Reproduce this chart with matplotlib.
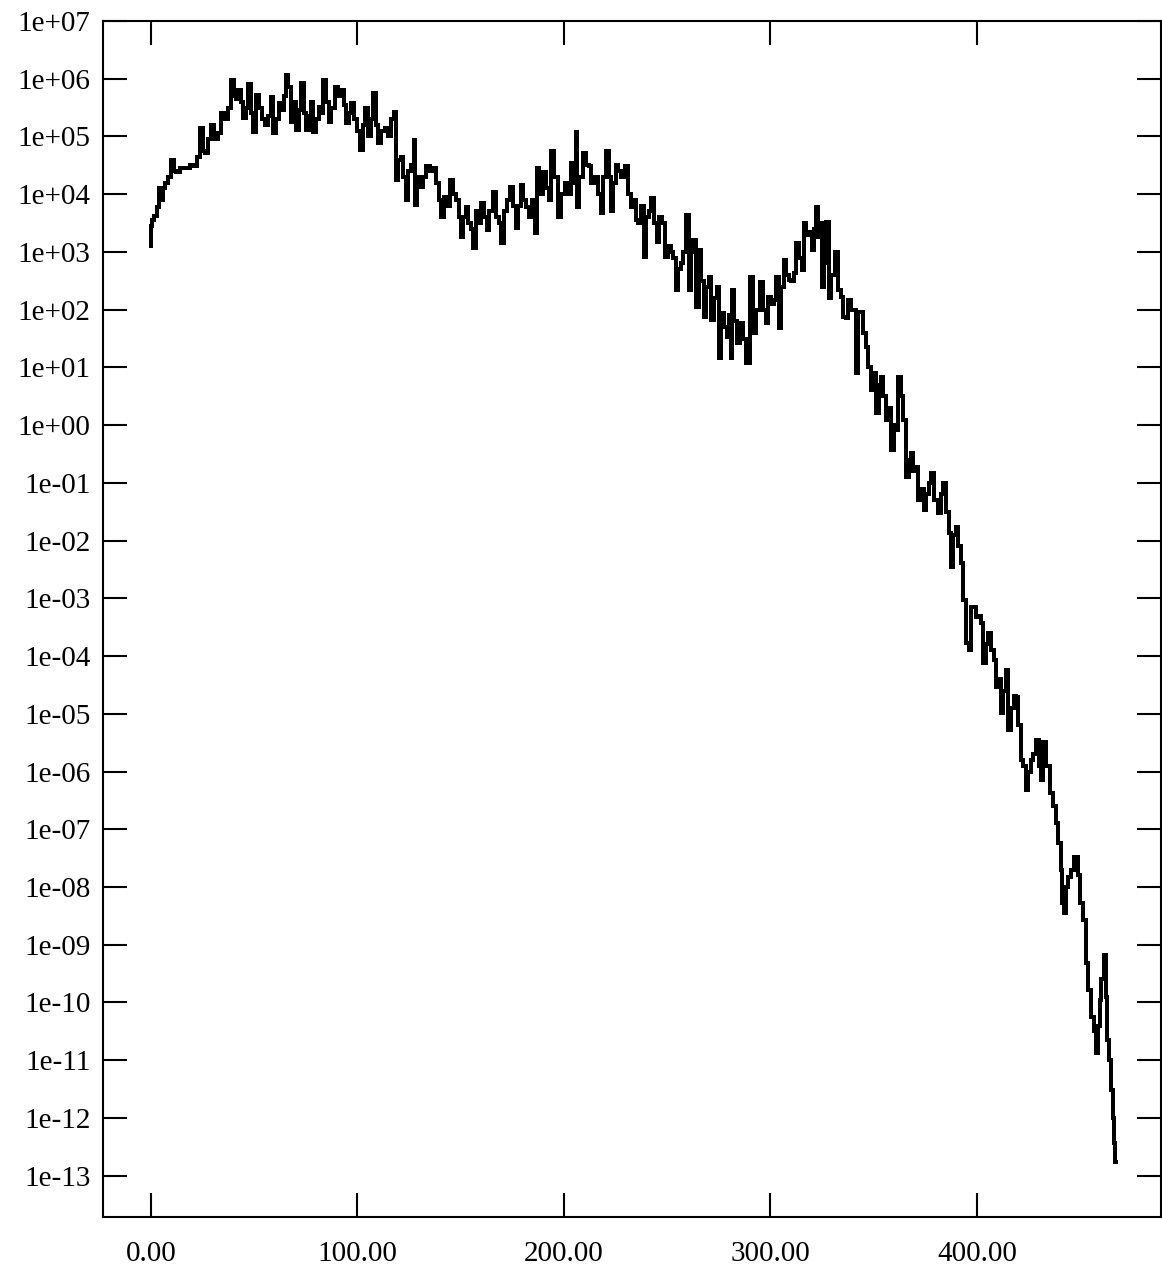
import numpy as np
import matplotlib
matplotlib.use("Agg")
import matplotlib.pyplot as plt
from matplotlib.ticker import FixedLocator, FuncFormatter

# abscissa and log10 of the ordinate
xs = [0.0, 0.5, 1.0, 2.4, 3.4, 4.4, 5.3, 6.3, 7.7, 9.2, 10.7, 11.6, 12.6, 15.5, 17.9, 19.9,
      21.3, 23.2, 24.7, 25.7, 27.1, 28.6, 30.0, 31.5, 33.4, 34.9, 36.3, 38.3, 39.7, 40.7,
      41.6, 43.1, 44.1, 45.5, 46.5, 47.9, 48.9, 50.4, 51.8, 53.3, 54.7, 56.2, 57.6, 58.6,
      60.0, 61.5, 62.5, 63.9, 64.9, 65.9, 67.3, 68.8, 69.7, 71.2, 72.2, 73.6, 74.6, 76.0,
      77.0, 78.0, 79.4, 80.9, 81.8, 82.8, 84.3, 85.7, 86.7, 88.1, 90.1, 91.5, 93.0, 93.9,
      95.4, 96.4, 97.8, 99.3, 100.2, 102.2, 103.1, 104.6, 106.1, 107.0, 108.5, 109.4,
      110.9, 112.3, 114.3, 115.7, 117.2, 118.2, 119.1, 120.6, 121.5, 123.0, 124.0, 125.4,
      126.9, 127.8, 128.3, 129.8, 131.2, 132.7, 134.1, 136.1, 137.5, 139.0, 140.0, 141.4,
      142.9, 144.3, 145.8, 147.2, 148.7, 149.6, 150.6, 152.1, 153.0, 154.5, 155.4, 156.9,
      158.4, 159.3, 160.8, 162.2, 163.2, 164.6, 166.6, 168.0, 169.0, 170.5, 171.9, 173.4,
      174.8, 176.3, 177.2, 178.7, 179.7, 181.1, 182.6, 184.0, 185.5, 186.9, 187.4, 188.9,
      190.8, 192.3, 193.2, 194.7, 196.1, 198.1, 199.5, 201.5, 202.9, 203.9, 205.3, 206.3,
      206.8, 208.2, 210.2, 211.6, 212.6, 214.0, 216.0, 217.4, 218.4, 219.9, 221.3, 222.3,
      223.2, 224.7, 225.7, 227.1, 228.6, 230.5, 232.0, 232.9, 234.4, 235.4, 236.8, 238.3,
      239.2, 240.7, 241.6, 243.1, 244.6, 245.5, 247.0, 248.4, 249.9, 251.3, 252.3, 253.8,
      254.7, 256.2, 257.1, 258.6, 260.0, 261.0, 262.0, 263.4, 264.9, 265.9, 267.3, 268.3,
      269.7, 270.7, 272.2, 273.6, 274.6, 275.5, 277.0, 278.5, 279.4, 280.4, 281.4, 281.8,
      283.3, 284.3, 286.2, 287.7, 289.1, 291.0, 292.5, 294.0, 295.9, 297.3, 298.3, 299.8,
      301.2, 302.2, 303.6, 304.6, 306.1, 307.0, 308.5, 309.4, 310.9, 311.9, 313.3, 314.8,
      315.7, 316.7, 318.2, 320.1, 320.6, 321.5, 322.5, 324.0, 324.5, 325.4, 326.4, 327.8,
      328.8, 330.3, 332.2, 333.7, 334.6, 336.1, 337.1, 338.5, 339.5, 340.9, 341.9, 343.3,
      344.3, 345.8, 346.7, 348.2, 349.2, 350.6, 352.1, 353.0, 354.0, 355.4, 356.4, 357.9,
      359.3, 360.3, 361.3, 362.7, 363.7, 365.1, 366.6, 367.6, 368.5, 370.0, 370.9, 372.4,
      373.8, 374.8, 376.3, 377.2, 378.7, 380.1, 382.1, 383.1, 384.5, 386.0, 386.9, 387.9,
      389.3, 390.3, 391.8, 392.7, 394.2, 395.6, 396.6, 398.1, 399.0, 400.5, 401.5, 402.4,
      403.9, 404.8, 406.3, 407.7, 408.7, 410.2, 411.1, 412.1, 413.6, 414.5, 416.0, 417.4,
      418.4, 419.4, 420.8, 421.8, 423.2, 424.2, 425.7, 426.6, 428.1, 429.5, 430.5, 431.5,
      432.9, 434.4, 436.3, 437.8, 438.7, 440.2, 441.2, 441.6, 442.6, 443.6, 445.0, 446.5,
      447.5, 448.4, 449.4, 450.8, 452.3, 453.3, 454.7, 456.2, 457.1, 458.1, 459.1, 459.6,
      461.0, 462.0, 462.9, 463.4, 464.4, 465.4, 466.3, 466.8, 467.3]

log_y = [3.10, 3.45, 3.56, 3.62, 3.78, 4.11, 3.90, 4.10, 4.20, 4.30, 4.60, 4.40, 4.39, 4.45, 4.46, 4.50,
         4.48, 4.65, 5.15, 4.75, 4.72, 4.95, 5.20, 4.95, 5.06, 5.41, 5.30, 5.50, 5.98, 5.70,
         5.64, 5.81, 5.60, 5.32, 5.50, 5.90, 5.40, 5.08, 5.72, 5.50, 5.30, 5.20, 5.35, 5.69,
         5.06, 5.30, 5.58, 5.45, 5.70, 6.07, 5.86, 5.25, 5.60, 5.12, 5.45, 5.93, 5.40, 5.12,
         5.35, 5.60, 5.08, 5.30, 5.51, 5.40, 5.98, 5.60, 5.25, 5.50, 5.86, 5.70, 5.81, 5.55,
         5.24, 5.40, 5.58, 5.30, 5.10, 4.77, 5.20, 5.50, 5.00, 5.30, 5.76, 5.20,
         4.89, 5.10, 5.15, 5.00, 5.30, 5.43, 4.25, 4.60, 4.65, 4.30, 3.90, 4.40,
         4.50, 4.94, 3.82, 4.30, 4.13, 4.30, 4.48, 4.40, 4.46, 4.20, 3.90, 3.61,
         3.95, 3.80, 4.25, 4.00, 3.90, 3.60, 3.25, 3.60, 3.77, 3.50, 3.40, 3.07,
         3.70, 3.50, 3.85, 3.60, 3.38, 3.70, 4.04, 3.60, 3.50, 3.16, 3.70, 3.90,
         4.13, 3.80, 3.42, 3.80, 4.16, 3.90, 3.77, 3.60, 3.90, 3.33, 4.46, 4.00,
         4.39, 4.10, 3.90, 4.74, 4.30, 3.61, 4.00, 4.20, 4.00, 4.54, 4.20, 5.08,
         3.77, 4.30, 4.72, 4.50, 4.48, 4.20, 4.30, 4.00, 3.68, 4.30, 4.74, 4.30,
         3.70, 4.20, 4.51, 4.40, 4.30, 4.48, 4.00, 3.77, 3.90, 3.56, 3.50, 3.80,
         2.92, 3.60, 3.70, 3.94, 3.50, 3.18, 3.61, 3.50, 2.92, 3.10, 2.99, 2.90,
         2.34, 2.70, 2.81, 3.00, 3.64, 2.34, 3.00, 3.21, 2.05, 3.04, 2.50, 1.88,
         2.40, 2.57, 1.82, 2.20, 2.40, 1.17, 1.95, 1.70, 1.53, 1.90, 1.17, 2.34,
         1.80, 1.43, 1.77, 1.50, 1.08, 2.57, 1.60, 2.00, 2.48, 2.00, 1.77, 2.22,
         2.10, 2.17, 2.57, 1.69, 2.40, 2.86, 2.60, 2.52, 2.50, 2.64, 3.16, 2.90,
         2.69, 3.50, 3.30, 3.35, 3.04, 3.40, 3.78, 3.26, 3.50, 2.40, 2.80, 3.52,
         2.20, 2.60, 2.99, 2.34, 2.22, 1.88, 1.86, 2.17, 2.00, 2.00, 0.91, 1.96,
         1.96, 1.60, 1.36, 1.00, 0.61, 0.90, 0.21, 0.70, 0.84, 0.50, 0.09, 0.30,
         -0.43, 0.00, -0.08, 0.84, 0.50, 0.09, -0.90, -0.60, -0.48, -0.80, -0.72, -1.29,
         -1.10, -1.47, -1.20, -1.00, -0.83, -1.30, -1.52, -1.20, -1.00, -1.50, -1.87, -2.45,
         -1.90, -1.76, -2.10, -2.38, -3.03, -3.77, -3.89, -3.15, -3.15, -3.32, -3.30, -3.42,
         -4.12, -3.80, -3.60, -3.90, -4.07, -4.53, -4.40, -4.98, -4.60, -4.24, -5.28, -4.90,
         -4.70, -4.71, -5.20, -5.80, -5.90, -6.32, -6.00, -5.80, -5.70, -5.45, -5.90, -6.14,
         -5.49, -5.90, -6.37, -6.60, -6.89, -7.24, -7.70, -8.28, -8.45, -8.00, -7.83, -7.70,
         -7.48, -7.48, -7.80, -8.28, -8.57, -9.32, -9.78, -10.25, -10.50, -10.87, -10.40, -9.96,
         -9.60, -9.18, -9.90, -10.65, -11.00, -11.52, -12.00, -12.43, -12.76]

x_ticks = [0, 100, 200, 300, 400]
y_exps = list(range(-13, 8))

fig = plt.figure(figsize=(11.62, 12.71), dpi=100)
ax = fig.add_axes([0.0886, 0.0425, 0.9105, 0.941])

ax.plot(xs, 10.0 ** np.array(log_y), color='black', lw=2.6,
        drawstyle='steps-mid', antialiased=False)

ax.set_yscale('log')
ax.set_xlim(-23.2, 489.1)
ax.set_ylim(10 ** -13.716, 1e7)

ax.xaxis.set_major_locator(FixedLocator(x_ticks))
ax.xaxis.set_major_formatter(FuncFormatter(lambda v, p: '%.2f' % v))
ax.yaxis.set_major_locator(FixedLocator([10.0 ** e for e in y_exps]))
ax.yaxis.set_minor_locator(FixedLocator([]))
ax.yaxis.set_major_formatter(FuncFormatter(lambda v, p: '1e%+03d' % int(round(np.log10(v)))))

ax.tick_params(axis='both', which='major', direction='in', length=17, width=1.5,
               top=True, right=True, labelsize=21, colors='black')
ax.tick_params(axis='y', pad=9)
ax.tick_params(axis='x', pad=17)
for lab in ax.get_xticklabels() + ax.get_yticklabels():
    lab.set_fontfamily('Liberation Serif')
for s in ax.spines.values():
    s.set_linewidth(1.5)

fig.savefig('out.png', dpi=100)
